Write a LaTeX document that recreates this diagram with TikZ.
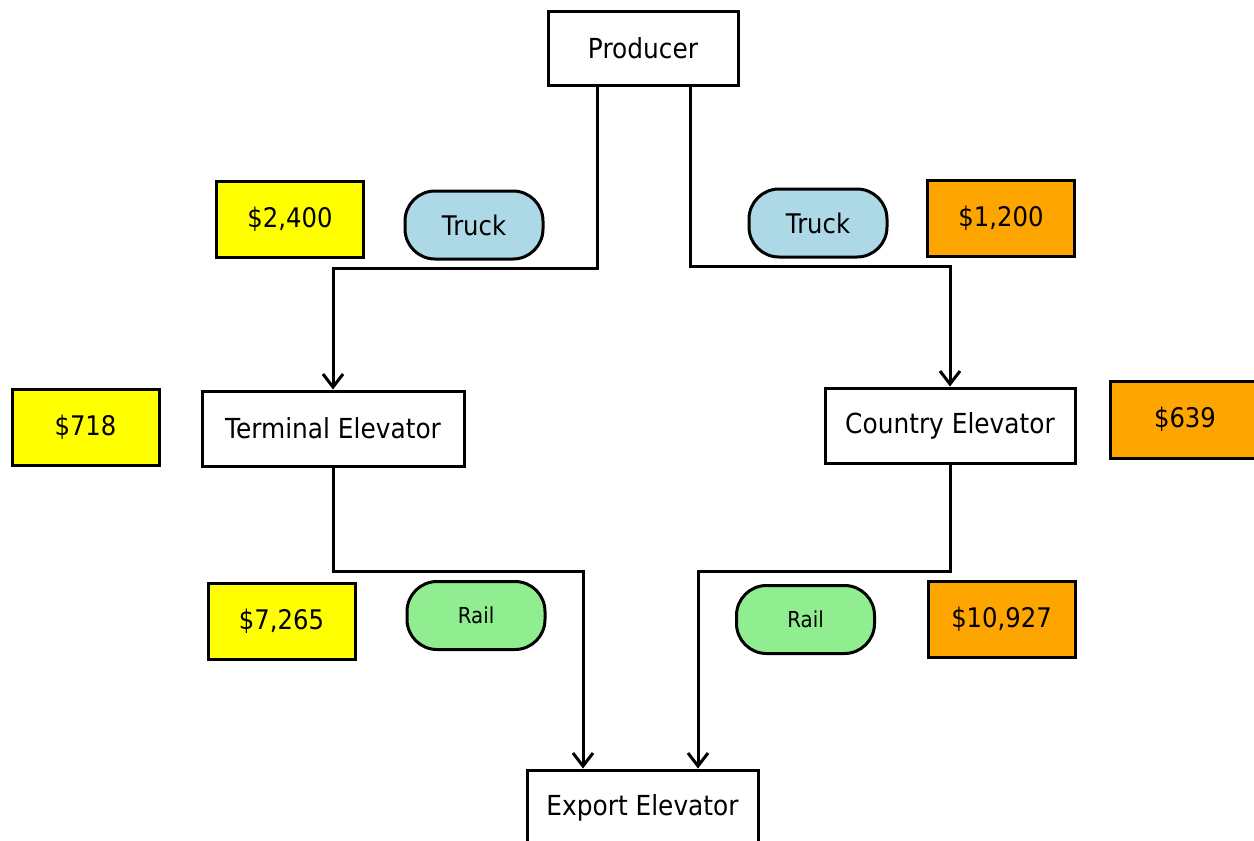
\documentclass[tikz,border=0pt]{standalone}
\usepackage{fontspec}
\setmainfont{DejaVu Sans}[FakeStretch=0.9]
\usetikzlibrary{arrows.meta}
\definecolor{cyellow}{HTML}{FFFF00}
\definecolor{corange}{HTML}{FFA500}
\definecolor{cblue}{HTML}{ADD8E6}
\definecolor{cgreen}{HTML}{90EE90}
\tikzset{
  base/.style={draw=black, line width=3pt, inner sep=0pt, font=\fontsize{27}{31}\selectfont},
  wbox/.style={base, fill=white, font=\fontsize{27.6}{32}\selectfont},
  ybox/.style={base, fill=cyellow, minimum width=147pt, minimum height=76pt},
  obox/.style={base, fill=corange, minimum width=147pt, minimum height=76pt},
  pill/.style={base, rounded corners=30pt, minimum width=138pt, minimum height=68pt},
  conn/.style={draw=black, line width=3pt, -{Straight Barb[length=13pt,width=20pt,line width=3pt]}}
}
\begin{document}
\begin{tikzpicture}[x=1pt,y=-1pt]
\useasboundingbox (0,0) rectangle (1254,841);
\node[wbox, minimum width=190pt, minimum height=74pt] (producer) at (643,48) {Producer};
\node[ybox] (p2400) at (290,219) {\$2,400};
\node[pill, fill=cblue] (truckL) at (474,225) {Truck};
\node[pill, fill=cblue] (truckR) at (818,223) {Truck};
\node[obox] (p1200) at (1001,218.5) {\$1,200};
\node[ybox] (p718) at (85.5,427) {\$718};
\node[wbox, minimum width=262pt, minimum height=75pt] (terminal) at (333,428.5) {Terminal Elevator};
\node[wbox, minimum width=250pt, minimum height=75pt] (country) at (950,425.5) {Country Elevator};
\node[obox, minimum width=150pt, minimum height=77pt] (p639) at (1185,419.5) {\$639};
\node[ybox] (p7265) at (281.5,621) {\$7,265};
\node[pill, fill=cgreen, font=\fontsize{22}{26}\selectfont] (railL) at (476,615.5) {Rail};
\node[pill, fill=cgreen, font=\fontsize{22}{26}\selectfont] (railR) at (805.5,619.5) {Rail};
\node[obox] (p10927) at (1001.5,619) {\$10,927};
\node[wbox, minimum width=231pt, minimum height=76pt] (export) at (642.5,808) {Export Elevator};
\draw[conn] ([xshift=-46pt]producer.south) -- ++(0,182) -| (terminal.north);
\draw[conn] ([xshift=47pt]producer.south) -- ++(0,180) -| (country.north);
\draw[conn] (terminal.south) -- ++(0,104) -| ([xshift=-59.5pt]export.north);
\draw[conn] (country.south) -- ++(0,107) -| ([xshift=55.5pt]export.north);
\end{tikzpicture}
\end{document}
